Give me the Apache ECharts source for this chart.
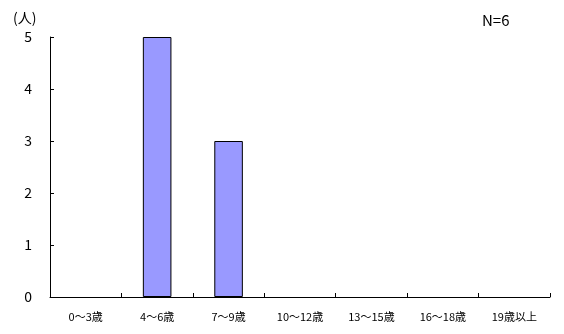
<!DOCTYPE html>
<html><head><meta charset="utf-8">
<script src="https://cdn.jsdelivr.net/npm/echarts@6/dist/echarts.min.js"></script>
<style>html,body{margin:0;padding:0;background:#fff}#c{width:564px;height:334px}</style>
</head><body><div id="c"></div>
<script>
const categories = ['0〜3歳','4〜6歳','7〜9歳','10〜12歳','13〜15歳','16〜18歳','19歳以上'];
const counts = [0,5,3,0,0,0,0];
const yTicks = [0,1,2,3,4,5];
const font = '"Noto Sans CJK JP", sans-serif';
const chart = echarts.init(document.getElementById('c'), null, {renderer:'canvas'});
chart.setOption({
  animation:false,
  backgroundColor:'#fff',
  grid:{left:50,right:14,top:37,bottom:37,containLabel:false},
  title:[
    {text:'(人)',left:8,top:6,textStyle:{fontFamily:font,fontSize:14,fontWeight:'normal',color:'#000'}},
    {text:'N=6',left:477,top:8,textStyle:{fontFamily:font,fontSize:15,fontWeight:'normal',color:'#000'}}
  ],
  xAxis:{type:'category',data:categories,
    axisLine:{lineStyle:{color:'#000',width:1}},
    axisTick:{show:true,inside:true,length:4,alignWithLabel:false,lineStyle:{color:'#000'}},
    axisLabel:{fontFamily:font,fontSize:11,color:'#000',margin:14,interval:0}},
  yAxis:{type:'value',min:yTicks[0],max:yTicks[yTicks.length-1],interval:1,
    axisLine:{show:true,lineStyle:{color:'#000',width:1}},
    axisTick:{show:true,inside:true,length:4,lineStyle:{color:'#000'}},
    splitLine:{show:false},
    axisLabel:{fontFamily:font,fontSize:14,color:'#000',margin:18}},
  series:[{type:'bar',barWidth:'40%',
    data:counts.map(v => v === 0 ? {value:v,itemStyle:{borderWidth:0}} : v),
    itemStyle:{color:'#9999FF',borderColor:'#000',borderWidth:1}}]
});
</script></body></html>
